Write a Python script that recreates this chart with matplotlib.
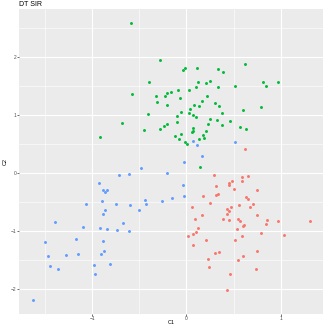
import matplotlib
matplotlib.use("Agg")
import matplotlib.pyplot as plt
import numpy as np

plt.rcParams['font.family'] = ['Liberation Sans', 'DejaVu Sans']

# cluster 1 (red)
c1_x = [0.622, 0.296, 0.593, 0.651, 0.481, 0.587, 0.452, 0.311, 0.449, 0.508,
        0.749, 0.335, 0.317, 0.179, 0.633, 0.654, 0.247, 0.710, 0.558, 0.473,
        0.678, 0.063, 0.431, 0.449, 0.428, 0.166, 0.749, 0.094, 0.392, 0.455,
        0.548, 0.572, 0.859, 0.976, 1.309, 0.842, 0.608, 0.598, 0.123, 0.537,
        0.105, 0.789, 0.073, 0.020, 0.593, 1.033, 0.208, 0.519, 0.067, 0.749,
        0.307, 0.343, 0.598, 0.229, 0.545, 0.237, 0.736, 0.460, 0.431]
c1_y = [0.417, -0.043, -0.073, -0.050, -0.137, -0.147, -0.176, -0.223, -0.216, -0.285,
        -0.298, -0.362, -0.384, -0.401, -0.424, -0.453, -0.522, -0.535, -0.557, -0.587,
        -0.587, -0.592, -0.626, -0.656, -0.708, -0.725, -0.725, -0.804, -0.799, -0.817,
        -0.799, -0.834, -0.817, -0.834, -0.839, -0.881, -0.903, -0.926, -0.955, -0.967,
        -1.024, -1.042, -1.064, -1.099, -1.093, -1.081, -1.157, -1.168, -1.249, -1.353,
        -1.382, -1.375, -1.434, -1.486, -1.509, -1.630, -1.670, -1.751, -2.033]

# cluster 2 (green)
c2_x = [-0.591, -0.283, 0.622, -0.012, -0.039, 0.116, 0.332, 0.385, -0.394, 0.126,
        0.205, 0.247, 0.810, 0.969, 0.105, 0.339, 0.513, 0.842, -0.574, -0.092,
        0.031, -0.160, -0.209, -0.323, -0.224, -0.068, 0.222, 0.169, -0.309, 0.307,
        0.349, 0.084, 0.137, -0.203, 0.792, 0.598, 0.035, -0.057, 0.024, 0.375,
        -0.411, 0.073, -0.103, 0.102, 0.251, 0.322, 0.463, -0.097, -0.684, -0.203,
        -0.235, 0.232, 0.378, 0.572, 0.630, -0.447, -0.277, 0.073, 0.067, 0.063,
        0.211, -0.054, -0.124, 0.179, -0.079, 0.134, 0.190, -0.018, 0.010, -0.917,
        0.148]
c2_y = [2.587, 1.952, 1.894, 1.813, 1.784, 1.808, 1.791, 1.749, 1.566, 1.571,
        1.554, 1.588, 1.571, 1.571, 1.479, 1.484, 1.502, 1.497, 1.363, 1.433,
        1.433, 1.398, 1.381, 1.334, 1.324, 1.299, 1.324, 1.247, 1.230, 1.208,
        1.161, 1.173, 1.161, 1.168, 1.138, 1.087, 1.104, 1.052, 1.035, 1.029,
        1.012, 1.005, 0.983, 0.960, 0.936, 0.919, 0.901, 0.874, 0.856, 0.849,
        0.815, 0.839, 0.832, 0.798, 0.758, 0.746, 0.753, 0.775, 0.723, 0.706,
        0.718, 0.676, 0.637, 0.649, 0.585, 0.585, 0.602, 0.528, 0.493, 0.625,
        0.095]

# cluster 3 (blue)
c3_x = [0.073, 0.116, 0.516, 0.169, -0.022, -0.479, -0.712, -0.606, -0.209, -0.925,
        -0.036, -0.889, -0.840, -0.861, -0.022, -0.436, -0.156, -0.256, -0.432, -0.893,
        -1.069, -0.744, -0.596, -0.864, -0.500, -0.885, -0.670, -1.398, -1.094, -0.914,
        -0.843, -0.740, -0.613, -1.498, -1.169, -0.882, -0.872, -0.903, -1.466, -1.275,
        -1.151, -1.445, -1.363, -0.978, -0.967, -0.814, -1.628]
c3_y = [0.555, 0.476, 0.533, 0.285, 0.187, 0.083, -0.038, -0.021, 0.002, -0.176,
        -0.206, -0.292, -0.292, -0.327, -0.407, -0.465, -0.436, -0.483, -0.535, -0.483,
        -0.540, -0.545, -0.557, -0.649, -0.638, -0.708, -0.874, -0.856, -0.933, -0.960,
        -0.978, -0.995, -1.002, -1.192, -1.145, -1.185, -1.353, -1.405, -1.439, -1.417,
        -1.400, -1.612, -1.664, -1.600, -1.746, -1.573, -2.196]

fig = plt.figure(figsize=(3.27, 3.27), dpi=100)
ax = fig.add_axes([0.059, 0.041, 0.930, 0.930])
ax.set_facecolor('#EBEBEB')

for xs, ys, col in [(c1_x, c1_y, '#F8766D'), (c2_x, c2_y, '#00BA38'), (c3_x, c3_y, '#619CFF')]:
    ax.scatter(xs, ys, s=4.5, c=col, linewidths=0, zorder=3)

ax.set_xlim(-1.774, 1.453)
ax.set_ylim(-2.434, 2.829)
ax.set_xticks([-1, 0, 1])
ax.set_yticks([-2, -1, 0, 1, 2])
ax.set_xticks([-1.5, -0.5, 0.5, 1.0], minor=True)
ax.set_yticks([-1.5, -0.5, 0.5, 1.5, 2.5], minor=True)
ax.grid(which='major', color='white', linewidth=0.8, zorder=0)
ax.grid(which='minor', color='white', linewidth=0.4, zorder=0)
ax.set_axisbelow(True)
for s in ax.spines.values():
    s.set_visible(False)
ax.tick_params(which='major', length=1.2, width=0.5, color='#333333',
               labelsize=3.5, labelcolor='#4D4D4D', pad=0.6)
ax.tick_params(which='minor', length=0)

ax.set_xlabel('C1', fontsize=4)
ax.set_ylabel('C2', fontsize=4)
ax.xaxis.set_label_coords(0.5, -0.030)
ax.yaxis.set_label_coords(-0.047, 0.5)
ax.xaxis.label.set_va('center')
ax.yaxis.label.set_va('center')
ax.set_title('DT SIR', fontsize=5, loc='left', pad=2.5)

fig.savefig('out.png', dpi=100)
